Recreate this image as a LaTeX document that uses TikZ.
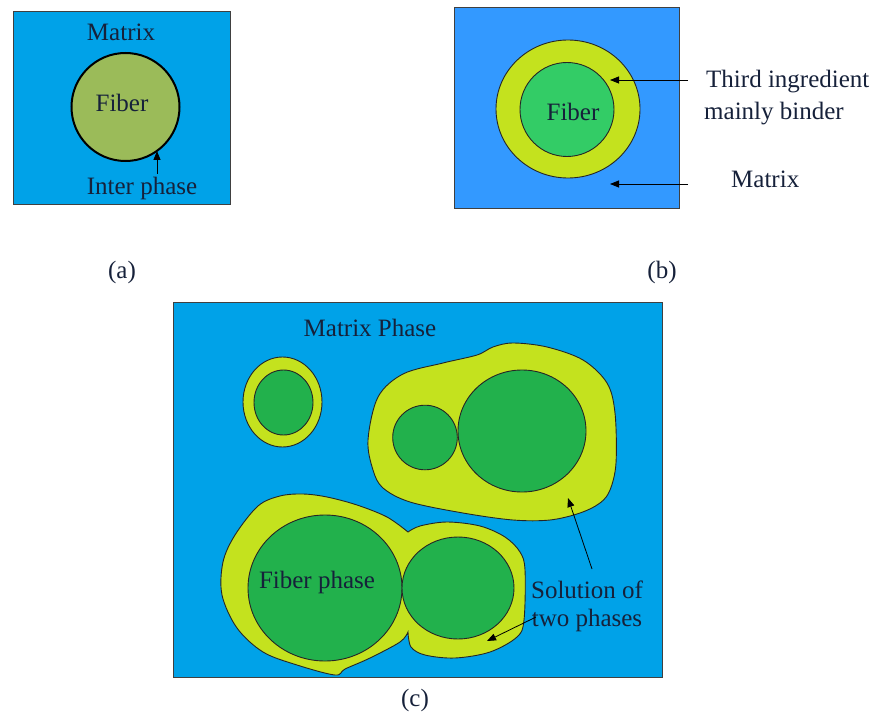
\documentclass[tikz,border=0pt]{standalone}
\usepackage{fontspec}
\setmainfont{Liberation Serif}
\usetikzlibrary{arrows.meta}
\definecolor{blueA}{HTML}{00A2E8}
\definecolor{blueB}{HTML}{3399FF}
\definecolor{oliveF}{HTML}{9BBB59}
\definecolor{limeC}{HTML}{C4E21E}
\definecolor{greenB}{HTML}{33CC66}
\definecolor{greenC}{HTML}{22B14C}
\definecolor{txt}{HTML}{16213A}
\begin{document}
\begin{tikzpicture}[x=1pt,y=-1pt,
  lbl/.style={font=\fontsize{25}{30}\selectfont, text=txt, inner sep=0pt},
  panel/.style={draw=black!75, line width=0.9pt},
  edge/.style={draw=black!85, line width=0.9pt},
  pointer/.style={-{Triangle[length=9pt,width=7pt]}, line width=0.8pt, black}]
\useasboundingbox (0,0) rectangle (885,719);

% ---------- panel (a) ----------
\draw[panel, fill=blueA] (13,11) rectangle (230,204);
\node[circle, minimum size=108pt, fill=oliveF, draw=black, line width=2pt] (fa) at (125.5,107) {};
\node[lbl] (ma) at (121,32) {Matrix};
\node[lbl] (fla) at (122,103) {Fiber};
\node[lbl] (ipa) at (142,188) {Inter phase};
\coordinate (ta) at (157,151);
\draw[pointer] (157,174) -- (ta);
\node[lbl] (la) at (122,272) {(a)};

% ---------- panel (b) ----------
\draw[panel, fill=blueB] (454,7) rectangle (679,208);
\draw[edge, fill=limeC] (568,109) ellipse [x radius=72, y radius=69];
\draw[edge, fill=greenB] (567,109.5) circle [radius=47];
\node[lbl] (flb) at (573,112) {Fiber};
\node[lbl, anchor=west] (tib) at (706,82) {Third ingredient};
\node[lbl, anchor=west] (mbb) at (704,114) {mainly binder};
\node[lbl, anchor=west] (mxb) at (731,179) {Matrix};
\coordinate (tb1) at (610,80);
\coordinate (tb2) at (610,184);
\draw[pointer] (688,80) -- (tb1);
\draw[pointer] (688,184) -- (tb2);
\node[lbl] (lb) at (662,272) {(b)};

% ---------- panel (c) ----------
\draw[panel, fill=blueA] (173,302) rectangle (662,677);
\node[lbl] (mpc) at (370,328) {Matrix Phase};

% small pair
\draw[edge, fill=limeC] (282.5,402) ellipse [x radius=39.5, y radius=45];
\draw[edge, fill=greenC] (283.5,402.5) ellipse [x radius=29.5, y radius=32.5];

% upper blob
\draw[edge, fill=limeC] plot[smooth cycle, tension=0.55] coordinates {
  (368,440) (373,470) (383,488) (410,502) (463,513) (513,520) (550,520)
  (580,513) (600,503) (610,490) (616,463) (615,413) (607,383) (583,360)
  (547,347) (513,343) (493,347) (477,355) (443,363) (403,374) (378,397)};
\draw[edge, fill=greenC] (425,437.5) circle [radius=32.3];
\draw[edge, fill=greenC] (522,431) ellipse [x radius=64, y radius=61];

% lower blob
\draw[edge, fill=limeC] plot[smooth, tension=0.55] coordinates {
  (408,532) (387,517) (357,505) (327,497) (303,494) (280,496) (258,506)
  (235,535) (223,562) (222,595) (237,628) (263,652) (297,665) (335,675)
  (345,669) (370,658) (400,642) (408,632)}
  -- plot[smooth, tension=0.55] coordinates {
  (408,632) (411,647) (425,655) (455,658) (490,652) (517,637) (524,620)
  (525,570) (520,552) (505,537) (480,526) (447,522) (420,526) (408,532)}
  -- cycle;
\draw[edge, fill=greenC] (325,588) ellipse [x radius=77, y radius=73];
\draw[edge, fill=greenC] (458,588) ellipse [x radius=56, y radius=51];
\node[lbl] (fpc) at (317,582) {Fiber phase};

\node[lbl] (soc) at (587,590) {Solution of};
\node[lbl] (tpc) at (587,620) {two phases};
\coordinate (tc1) at (568,498);
\coordinate (tc2) at (487,641);
\draw[pointer] (592,569) -- (tc1);
\draw[pointer] (536,617) -- (tc2);
\node[lbl] (lc) at (415,700) {(c)};
\end{tikzpicture}
\end{document}
